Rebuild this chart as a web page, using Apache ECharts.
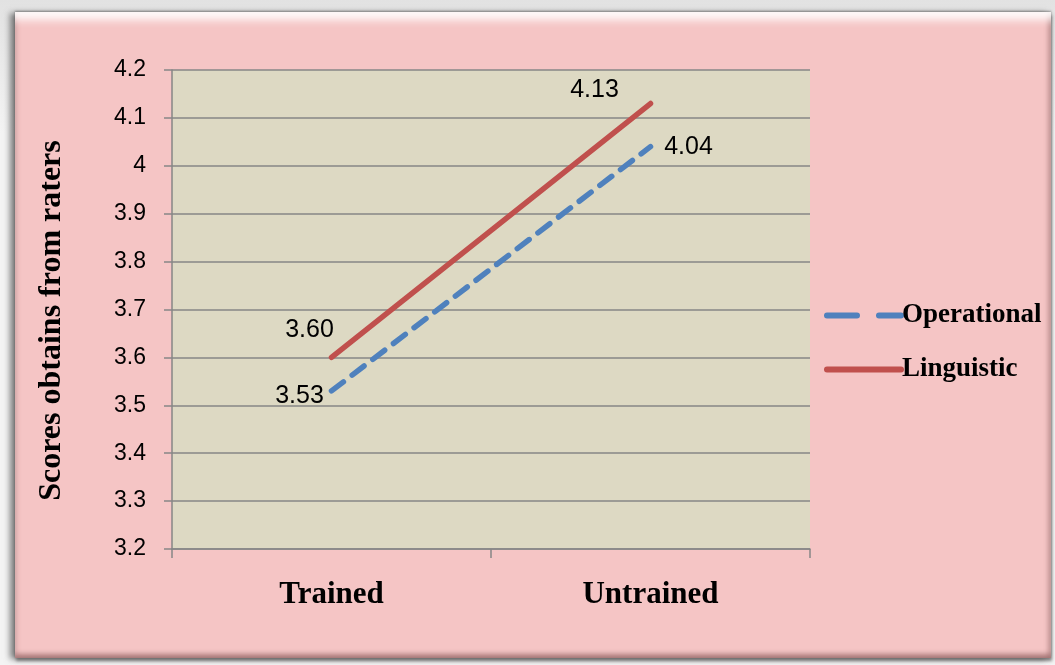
<!DOCTYPE html>
<html>
<head>
<meta charset="utf-8">
<script src="https://cdn.jsdelivr.net/npm/echarts@6/dist/echarts.min.js"></script>
<style>
  html, body { margin: 0; padding: 0; background: #eeeeee; }
  #wrap { position: relative; width: 1055px; height: 665px; overflow: hidden;
          background: linear-gradient(#e2e2e2, #f4f4f4 20%, #f4f4f4); }
  #frame { position: absolute; left: 15px; top: 12px; width: 1036px; height: 646px;
           background: #f5c5c5;
           box-shadow: -5px 1px 6px rgba(90,90,90,0.75), 0 -1px 2px rgba(90,90,90,0.6), 1px 3px 3px rgba(90,90,90,0.7),
                       inset 0 13px 9px -5px rgba(255,255,255,0.9),
                       inset -5px 0 4px -2px rgba(150,100,100,0.55),
                       inset 5px 0 4px -3px rgba(150,100,100,0.35),
                       inset 0 -7px 5px -3px rgba(130,85,85,0.65); }
  #chart { position: absolute; left: 0; top: 0; width: 1055px; height: 665px; }
</style>
</head>
<body>
<div id="wrap">
  <div id="frame"></div>
  <div id="chart"></div>
</div>
<script>
// Mean rater scores per group
const categories = ['Trained', 'Untrained'];
const operational = [3.53, 4.04];
const linguistic = [3.60, 4.13];
const yMin = 3.2, yMax = 4.2, yStep = 0.1;

// label placement (pixel offsets from each point)
const opOffsets = [[-32, 5], [38, 0]];
const lgOffsets = [[-22, -27], [-56, -13]];

const BLUE = '#4f81bd', RED = '#c0504d';

function points(values, offsets) {
  return values.map((v, i) => ({
    value: v,
    label: { offset: offsets[i] }
  }));
}

const labelStyle = {
  show: true,
  position: 'inside',
  formatter: p => p.value.toFixed(2),
  fontFamily: '"Liberation Sans", Arial, sans-serif',
  fontSize: 25,
  color: '#000'
};

const chart = echarts.init(document.getElementById('chart'), null, { renderer: 'canvas' });
chart.setOption({
  backgroundColor: 'transparent',
  animation: false,
  grid: { left: 172, right: 245, top: 70, bottom: 116, show: true,
          backgroundColor: '#ddd9c3', borderWidth: 0 },
  legend: {
    orient: 'vertical',
    left: 819, top: 297,
    itemWidth: 74, itemHeight: 26, itemGap: 27,
    itemStyle: { opacity: 0 },
    textStyle: { fontFamily: '"Liberation Serif", "Times New Roman", serif',
                 fontWeight: 'bold', fontSize: 27, color: '#000', padding: [0, 0, 0, -4] },
    data: [
      { name: 'Operational', lineStyle: { color: BLUE, width: 6, type: [30, 22], cap: 'round' } },
      { name: 'Linguistic', lineStyle: { color: RED, width: 6, cap: 'round' } }
    ]
  },
  xAxis: {
    type: 'category',
    data: categories,
    boundaryGap: true,
    axisLine: { lineStyle: { color: '#868686', width: 1.5 } },
    axisTick: { show: true, length: 9, lineStyle: { color: '#868686', width: 1.5 } },
    axisLabel: { margin: 30, color: '#000',
                 fontFamily: '"Liberation Serif", "Times New Roman", serif',
                 fontWeight: 'bold', fontSize: 31 }
  },
  yAxis: {
    type: 'value',
    min: yMin, max: yMax, interval: yStep,
    name: 'Scores obtains from raters',
    nameLocation: 'middle',
    nameGap: 104,
    nameTextStyle: { fontFamily: '"Liberation Serif", "Times New Roman", serif',
                     fontWeight: 'bold', fontSize: 32, color: '#000', padding: [0, 22, 0, 0] },
    axisLine: { show: true, lineStyle: { color: '#868686', width: 1.5 } },
    axisTick: { show: true, inside: false, length: 8, lineStyle: { color: '#868686', width: 1.5 } },
    splitLine: { show: true, lineStyle: { color: '#868686', width: 1.5 } },
    axisLabel: { margin: 26, color: '#000',
                 fontFamily: '"Liberation Sans", Arial, sans-serif', fontSize: 23,
                 formatter: v => String(Math.round(v * 10) / 10) }
  },
  series: [
    {
      name: 'Operational',
      type: 'line',
      data: points(operational, opOffsets),
      symbol: 'circle', symbolSize: 1,
      itemStyle: { color: BLUE },
      lineStyle: { color: BLUE, width: 5.5, type: [15, 11], cap: 'round' },
      label: labelStyle,
      z: 3
    },
    {
      name: 'Linguistic',
      type: 'line',
      data: points(linguistic, lgOffsets),
      symbol: 'circle', symbolSize: 1,
      itemStyle: { color: RED },
      lineStyle: { color: RED, width: 5.5, cap: 'round' },
      label: labelStyle,
      z: 3
    }
  ]
});
</script>
</body>
</html>
